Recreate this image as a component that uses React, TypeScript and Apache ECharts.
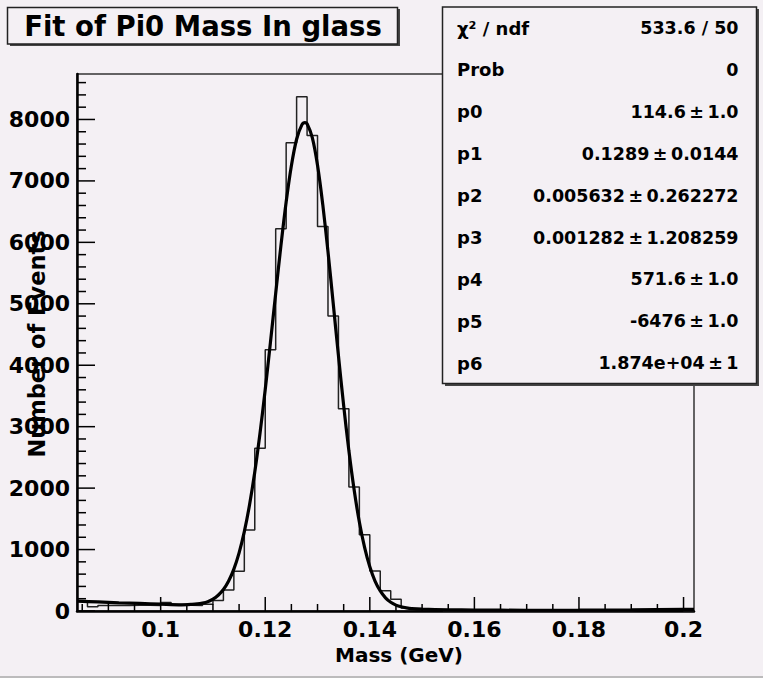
import React, { useEffect, useRef } from "react";
import * as echarts from "echarts";

const binLow = 0.084;
const binWidth = 0.002;
const histCounts = [
  165, 70, 90, 95, 90, 95, 95, 90, 140, 105, 95, 90, 110, 170, 340, 645, 1320, 2650, 4250, 6220,
  7620, 8370, 7740, 6260, 4800, 3290, 2020, 1240, 650, 330, 190, 50, 25, 25, 20, 5,
  3, 2, 0, 2, 0, 0, 2, 0, 0, 0, 2, 0, 0, 0, 3, 0, 5, 15, 25, 25, 25, 20, 5,
];
const fitMass = [
  0.084, 0.088, 0.092, 0.096, 0.1, 0.104, 0.106, 0.107, 0.108, 0.109, 0.11, 0.111, 0.112, 0.113,
  0.114, 0.115, 0.116, 0.117, 0.118, 0.119, 0.12, 0.121, 0.122, 0.123, 0.124, 0.125, 0.126, 0.127,
  0.1276, 0.128, 0.129, 0.13, 0.131, 0.132, 0.133, 0.134, 0.135, 0.136, 0.137, 0.138, 0.139, 0.14,
  0.141, 0.142, 0.143, 0.144, 0.145, 0.146, 0.147, 0.148, 0.15, 0.155, 0.16, 0.17, 0.18, 0.19, 0.2,
  0.202,
];
const fitValue = [
  160, 147, 134, 123, 111, 101, 108, 115, 129, 152, 193, 256, 349, 488, 682, 946, 1291, 1729, 2264,
  2894, 3605, 4376, 5170, 5947, 6656, 7247, 7678, 7912, 7950, 7930, 7706, 7255, 6617, 5848, 5008,
  4155, 3343, 2607, 1972, 1448, 1034, 719, 488, 326, 215, 142, 96, 68, 51, 40, 30, 20, 15, 12, 13,
  18, 26, 28,
];
const xMajorTicks = [0.1, 0.12, 0.14, 0.16, 0.18, 0.2];
const xMinorTicks = [
  0.085, 0.09, 0.095, 0.105, 0.11, 0.115, 0.125, 0.13, 0.135, 0.145, 0.15, 0.155, 0.165, 0.17,
  0.175, 0.185, 0.19, 0.195,
];
const yMajorTicks = [0, 1000, 2000, 3000, 4000, 5000, 6000, 7000, 8000];
const yMinorTicks = [
  200, 400, 600, 800, 1200, 1400, 1600, 1800, 2200, 2400, 2600, 2800, 3200, 3400, 3600, 3800, 4200,
  4400, 4600, 4800, 5200, 5400, 5600, 5800, 6200, 6400, 6600, 6800, 7200, 7400, 7600, 7800, 8200,
  8400, 8600,
];
const statsLabels = ["χ² / ndf", "Prob", "p0", "p1", "p2", "p3", "p4", "p5", "p6"];
const statsValues = [
  "533.6 / 50",
  "0",
  "114.6\u2009±\u20091.0",
  "0.1289\u2009±\u20090.0144",
  "0.005632\u2009±\u20090.262272",
  "0.001282\u2009±\u20091.208259",
  "571.6\u2009±\u20091.0",
  "-6476\u2009±\u20091.0",
  "1.874e+04\u2009±\u20091",
];
const titleText = "Fit of Pi0 Mass In glass";
const xTitle = "Mass (GeV)";
const yTitle = "Number of Events";

const X_MIN = 0.084;
const X_MAX = 0.202;
const Y_MAX = 8740;
const GRID = { left: 77, right: 69, top: 74, bottom: 67 };
const W = 763;
const H = 678;
const BG = "#f4f0f4";
const FONT = "DejaVu Sans";

export default function App() {
  const ref = useRef<HTMLDivElement>(null);
  useEffect(() => {
    if (!ref.current) return;
    const chart = echarts.init(ref.current, null, { renderer: "svg" });
    const histData: number[][] = histCounts.map((c, i) => [binLow + i * binWidth, c]);
    histData.push([binLow + histCounts.length * binWidth, histCounts[histCounts.length - 1]]);
    const fitData = fitMass.map((m, i) => [m, fitValue[i]]);

    chart.setOption({
      animation: false,
      backgroundColor: BG,
      textStyle: { fontFamily: FONT },
      grid: {
        ...GRID,
        show: true,
        borderColor: "#333",
        borderWidth: 1.5,
        backgroundColor: "transparent",
      },
      xAxis: {
        type: "value",
        min: X_MIN,
        max: X_MAX,
        position: "bottom",
        axisLine: { show: true, onZero: false, lineStyle: { color: "#000", width: 2.5 } },
        axisTick: { show: false },
        axisLabel: {
          customValues: xMajorTicks,
          formatter: (v: number) => String(v),
          margin: 7,
          color: "#000",
          fontSize: 22,
          fontWeight: "bold",
          fontFamily: FONT,
        },
        splitLine: { show: false },
      },
      yAxis: {
        type: "value",
        min: 0,
        max: Y_MAX,
        position: "left",
        axisLine: { show: true, onZero: false, lineStyle: { color: "#000", width: 2.5 } },
        axisTick: { show: false },
        axisLabel: {
          customValues: yMajorTicks,
          formatter: (v: number) => String(v),
          margin: 7,
          color: "#000",
          fontSize: 22,
          fontWeight: "bold",
          fontFamily: FONT,
        },
        splitLine: { show: false },
      },
      series: [
        {
          type: "line",
          name: "hist",
          data: histData,
          step: "end",
          showSymbol: false,
          symbol: "none",
          lineStyle: { color: "#222", width: 1.5 },
          z: 3,
        },
        {
          type: "line",
          name: "fit",
          data: fitData,
          smooth: 0.3,
          showSymbol: false,
          symbol: "none",
          lineStyle: { color: "#000", width: 3.2 },
          z: 4,
        },
      ],
    });

    const graphics: any[] = [];
    // ticks as thin filled rects placed with the chart's own scales
    const toPx = (v: number[]) => chart.convertToPixel({ xAxisIndex: 0, yAxisIndex: 0 }, v) as any;
    xMajorTicks.concat(xMinorTicks).forEach((v, i) => {
      const p = toPx([v, 0]);
      if (!p) return;
      const len = i < xMajorTicks.length ? 14 : 7;
      graphics.push({
        type: "rect",
        z: 50,
        shape: { x: p[0] - 0.75, y: p[1] - len, width: 1.5, height: len },
        style: { fill: "#000" },
      });
    });
    yMajorTicks.concat(yMinorTicks).forEach((v, i) => {
      const p = toPx([X_MIN, v]);
      if (!p) return;
      const len = i < yMajorTicks.length ? 18 : 9;
      graphics.push({
        type: "rect",
        z: 50,
        shape: { x: p[0], y: p[1] - 0.75, width: len, height: 1.5 },
        style: { fill: "#000" },
      });
    });

    graphics.push({ type: "rect", z: 60, shape: { x: 10, y: 9, width: 390, height: 37 }, style: { fill: "#444" } });
    graphics.push({
      type: "rect",
      z: 61,
      shape: { x: 7.5, y: 7.5, width: 390, height: 36.5 },
      style: { fill: BG, stroke: "#222", lineWidth: 1.5 },
    });
    graphics.push({
      type: "text",
      z: 62,
      x: 203,
      y: 26,
      style: { text: titleText, font: `bold 27.5px "${FONT}"`, fill: "#000", align: "center", verticalAlign: "middle" },
    });
    graphics.push({ type: "rect", z: 60, shape: { x: 445, y: 9, width: 314, height: 377 }, style: { fill: "#444" } });
    graphics.push({
      type: "rect",
      z: 61,
      shape: { x: 442.5, y: 7, width: 314, height: 376.5 },
      style: { fill: BG, stroke: "#222", lineWidth: 1.5 },
    });
    statsLabels.forEach((lab, i) => {
      const y = 28 + i * 41.9;
      graphics.push({
        type: "text",
        z: 62,
        x: 457,
        y,
        style: { text: lab, font: `bold 18px "${FONT}"`, fill: "#000", align: "left", verticalAlign: "middle" },
      });
      graphics.push({
        type: "text",
        z: 62,
        x: 738.5,
        y,
        style: { text: statsValues[i], font: `bold 17.5px "${FONT}"`, fill: "#000", align: "right", verticalAlign: "middle" },
      });
    });
    graphics.push({
      type: "text",
      z: 62,
      x: 399,
      y: 655,
      style: { text: xTitle, font: `bold 20px "${FONT}"`, fill: "#000", align: "center", verticalAlign: "middle" },
    });
    graphics.push({
      type: "text",
      z: 62,
      x: 37,
      y: 344,
      rotation: Math.PI / 2,
      style: { text: yTitle, font: `bold 22.5px "${FONT}"`, fill: "#000", align: "center", verticalAlign: "middle" },
    });
    graphics.push({
      type: "line",
      z: 62,
      shape: { x1: 0, y1: 677, x2: 763, y2: 677 },
      style: { stroke: "#aaa", lineWidth: 1.5 },
    });

    chart.setOption({ graphic: graphics });
    return () => chart.dispose();
  }, []);
  return (
    <div
      ref={ref}
      style={{ position: "fixed", left: 0, top: 0, width: W, height: H, background: BG }}
    />
  );
}
